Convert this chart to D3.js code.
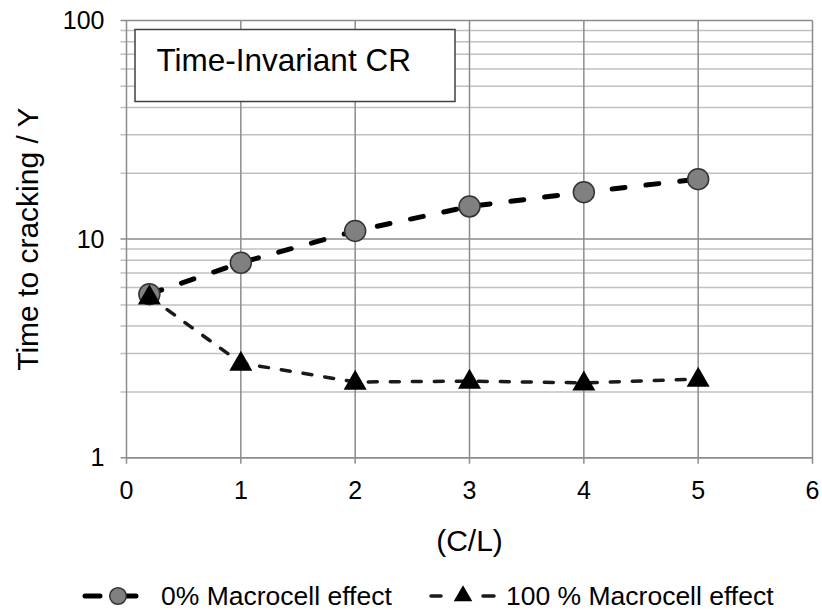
<!DOCTYPE html>
<html>
<head>
<meta charset="utf-8">
<script src="https://cdn.jsdelivr.net/npm/d3@7"></script>
<style>
  body { margin: 0; background: #fff; }
  svg text { font-family: "Liberation Sans", Arial, sans-serif; fill: #000; }
</style>
</head>
<body>
<div id="chart"></div>
<script>
// Chart data
const xTicks = [0, 1, 2, 3, 4, 5, 6];
const yTicks = [1, 10, 100];
const clRatio = [0.2, 1, 2, 3, 4, 5];
const macro0 = [5.6, 7.8, 10.9, 14.1, 16.4, 18.8];
const macro100 = [5.45, 2.71, 2.22, 2.24, 2.2, 2.29];
const seriesNames = ["0% Macrocell effect", "100 % Macrocell effect"];
const boxTitle = "Time-Invariant CR";

const width = 822, height = 610;
const margin = { top: 20.5, right: 9.5, bottom: 152.3, left: 126.5 };
const innerW = width - margin.left - margin.right;
const innerH = height - margin.top - margin.bottom;

const svg = d3.select("#chart").append("svg")
    .attr("width", width)
    .attr("height", height);

const g = svg.append("g")
    .attr("transform", `translate(${margin.left},${margin.top})`);

// Scales
const x = d3.scaleLinear().domain([0, 6]).range([0, innerW]);
const y = d3.scaleLog().domain([1, 100]).range([innerH, 0]);

// Minor gridlines (2..9 in each decade)
const minor = [];
for (let d = 1; d < 100; d *= 10) {
    for (let k = 2; k <= 9; k++) minor.push(k * d);
}
g.append("g").selectAll("line")
    .data(minor)
    .enter().append("line")
    .attr("x1", -6).attr("x2", innerW)
    .attr("y1", d => y(d)).attr("y2", d => y(d))
    .attr("stroke", "#c0c0c0")
    .attr("stroke-width", 1.5);

// Major horizontal gridlines
g.append("g").selectAll("line")
    .data(yTicks)
    .enter().append("line")
    .attr("x1", -6).attr("x2", innerW)
    .attr("y1", d => y(d)).attr("y2", d => y(d))
    .attr("stroke", "#8c8c8c")
    .attr("stroke-width", 1.5);

// Vertical gridlines + x ticks
g.append("g").selectAll("line")
    .data(xTicks)
    .enter().append("line")
    .attr("x1", d => x(d)).attr("x2", d => x(d))
    .attr("y1", 0).attr("y2", innerH + 6)
    .attr("stroke", "#8c8c8c")
    .attr("stroke-width", 1.5);

// Axis line
g.append("line")
    .attr("x1", 0).attr("x2", innerW)
    .attr("y1", innerH).attr("y2", innerH)
    .attr("stroke", "#8c8c8c").attr("stroke-width", 1.5);

// Tick labels
g.append("g").selectAll("text")
    .data(xTicks)
    .enter().append("text")
    .attr("x", d => x(d))
    .attr("y", innerH + 41)
    .attr("text-anchor", "middle")
    .attr("font-size", 25)
    .text(d => d);

g.append("g").selectAll("text")
    .data(yTicks)
    .enter().append("text")
    .attr("x", -22)
    .attr("y", d => y(d))
    .attr("dy", "0.35em")
    .attr("text-anchor", "end")
    .attr("font-size", 25)
    .text(d => d);

// Axis titles
svg.append("text")
    .attr("x", margin.left + innerW / 2)
    .attr("y", 551)
    .attr("text-anchor", "middle")
    .attr("font-size", 30)
    .text("(C/L)");

svg.append("text")
    .attr("transform", `translate(38,${margin.top + innerH / 2}) rotate(-90)`)
    .attr("text-anchor", "middle")
    .attr("font-size", 30)
    .text("Time to cracking / Y");

// Title box
const box = g.append("g");
box.append("rect")
    .attr("x", 8.5).attr("y", 9)
    .attr("width", 320).attr("height", 72)
    .attr("fill", "#fff")
    .attr("stroke", "#404040")
    .attr("stroke-width", 1.5);
box.append("text")
    .attr("x", 30).attr("y", 50)
    .attr("font-size", 31.5)
    .text(boxTitle);

// Series
const data0 = clRatio.map((c, i) => ({ x: c, y: macro0[i] }));
const data100 = clRatio.map((c, i) => ({ x: c, y: macro100[i] }));

const line = d3.line().x(d => x(d.x)).y(d => y(d.y));

const tri = d3.symbol().type(d3.symbolTriangle).size(230);

g.append("path")
    .datum(data100)
    .attr("d", line)
    .attr("fill", "none")
    .attr("stroke", "#1a1a1a")
    .attr("stroke-width", 3.5)
    .attr("stroke-linecap", "round")
    .attr("stroke-dasharray", "9,13");

g.append("path")
    .datum(data0)
    .attr("d", line)
    .attr("fill", "none")
    .attr("stroke", "#000")
    .attr("stroke-width", 5)
    .attr("stroke-linecap", "round")
    .attr("stroke-dasharray", "13,21");

g.append("g").selectAll("circle")
    .data(data0)
    .enter().append("circle")
    .attr("cx", d => x(d.x))
    .attr("cy", d => y(d.y))
    .attr("r", 10.5)
    .attr("fill", "#808080")
    .attr("stroke", "#333")
    .attr("stroke-width", 1.5);

g.append("g").selectAll("path")
    .data(data100)
    .enter().append("path")
    .attr("d", tri)
    .attr("transform", d => `translate(${x(d.x)},${y(d.y) + 1})`)
    .attr("fill", "#000");

// Legend
const legendY = 596;
const leg = svg.append("g");

leg.append("line")
    .attr("x1", 85).attr("x2", 136)
    .attr("y1", legendY).attr("y2", legendY)
    .attr("stroke", "#000").attr("stroke-width", 5)
    .attr("stroke-linecap", "round")
    .attr("stroke-dasharray", "15,21");
leg.append("circle")
    .attr("cx", 118).attr("cy", legendY)
    .attr("r", 8.3)
    .attr("fill", "#808080")
    .attr("stroke", "#333")
    .attr("stroke-width", 1.5);
leg.append("text")
    .attr("x", 161).attr("y", legendY + 9)
    .attr("font-size", 26.5)
    .text(seriesNames[0]);

leg.append("line")
    .attr("x1", 431).attr("x2", 494)
    .attr("y1", legendY).attr("y2", legendY)
    .attr("stroke", "#1a1a1a").attr("stroke-width", 3.5)
    .attr("stroke-linecap", "round")
    .attr("stroke-dasharray", "10,42,11");
leg.append("path")
    .attr("d", d3.symbol().type(d3.symbolTriangle).size(150))
    .attr("transform", `translate(463,${legendY})`)
    .attr("fill", "#000");
leg.append("text")
    .attr("x", 506).attr("y", legendY + 9)
    .attr("font-size", 26.5)
    .text(seriesNames[1]);
</script>
</body>
</html>
